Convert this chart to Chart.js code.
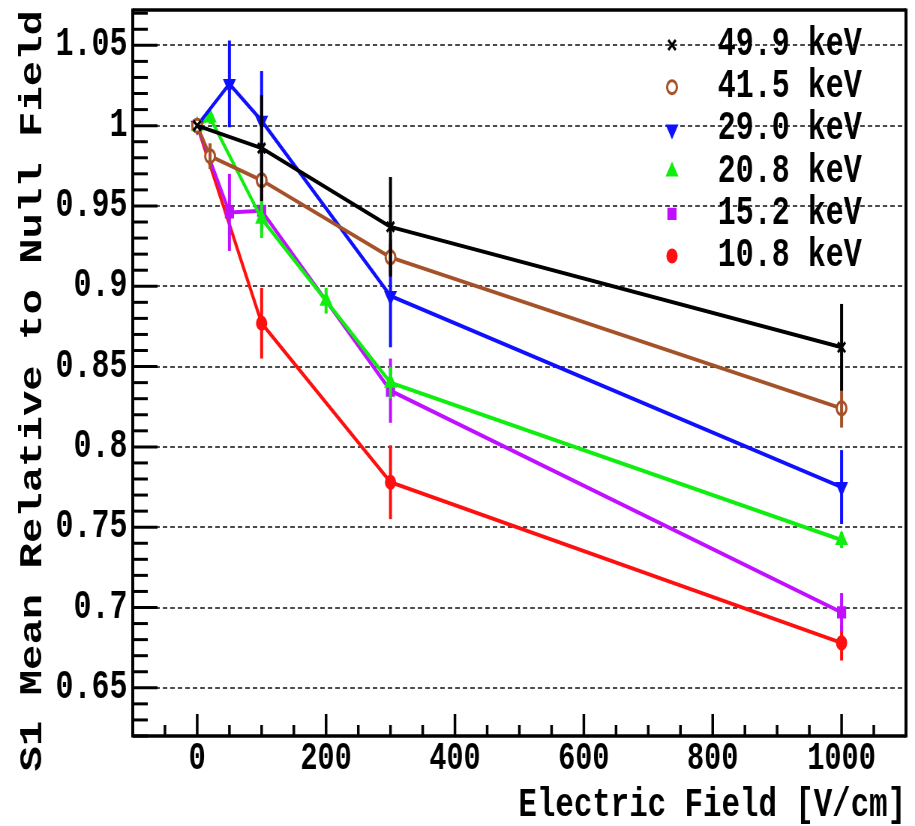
<!DOCTYPE html>
<html>
<head>
<meta charset="utf-8">
<title>S1 Mean Relative to Null Field</title>
<script src="https://cdn.jsdelivr.net/npm/chart.js@4.4.1/dist/chart.umd.min.js"></script>
<style>
html, body { margin: 0; padding: 0; background: #fff; overflow: hidden; }
/* 元画像は横方向に潰れているので、広いキャンバスを横に縮めて描く */
#wrap { width: 1220px; height: 826px; transform: scaleX(0.75); transform-origin: 0 0; }
</style>
</head>
<body>
<div id="wrap"><canvas id="chart"></canvas></div>
<script>
// 凡例ラベル
const labels = ['49.9 keV', '41.5 keV', '29.0 keV', '20.8 keV', '15.2 keV', '10.8 keV'];

// 電場 [V/cm]・S1平均（ゼロ電場比）・誤差
const field499 = [0, 100, 300, 1000];
const mean499  = [1.0, 0.986, 0.937, 0.862];
const err499   = [0, 0.033, 0.031, 0.027];

const field415 = [0, 20, 100, 300, 1000];
const mean415  = [1.0, 0.981, 0.966, 0.918, 0.824];
const err415   = [0, 0.008, 0.012, 0.011, 0.012];

const field290 = [0, 50, 100, 300, 1000];
const mean290  = [1.0, 1.026, 1.003, 0.894, 0.775];
const err290   = [0, 0.027, 0.031, 0.032, 0.023];

const field208 = [0, 20, 100, 200, 300, 1000];
const mean208  = [1.0, 1.005, 0.942, 0.891, 0.840, 0.742];
const err208   = [0, 0.004, 0.012, 0.008, 0.010, 0.005];

const field152 = [0, 50, 100, 300, 1000];
const mean152  = [1.0, 0.946, 0.947, 0.835, 0.697];
const err152   = [0, 0.024, 0.014, 0.020, 0.012];

const field108 = [0, 100, 300, 1000];
const mean108  = [1.0, 0.877, 0.778, 0.678];
const err108   = [0, 0.022, 0.023, 0.011];

// 目盛り
const xTicks = [0, 200, 400, 600, 800, 1000];
const yTicks = [0.65, 0.7, 0.75, 0.8, 0.85, 0.9, 0.95, 1, 1.05];

const fields = [field499, field415, field290, field208, field152, field108];
const means  = [mean499, mean415, mean290, mean208, mean152, mean108];
const errors = [err499, err415, err290, err208, err152, err108];

// 見た目
const colors = ['#000000', '#a5522a', '#1010ff', '#10ee10', '#c010ff', '#ff1010'];
const fills  = ['#000000', '#ffffff', '#1010ff', '#10ee10', '#c010ff', '#ff1010'];
const styles = ['crossRot', 'circle', 'triangle', 'triangle', 'rect', 'circle'];
const rots   = [0, 0, 180, 0, 0, 0];
const radii  = [7, 6.5, 7, 7, 6.5, 6];

const FONT = "'Liberation Mono', 'DejaVu Sans Mono', monospace";
Chart.defaults.font.family = FONT;
Chart.defaults.font.weight = 'bold';
Chart.defaults.color = '#000';

// 誤差棒・枠・内向き目盛り・凡例・Y軸タイトル
const rootStyle = {
    id: 'rootStyle',
    afterDatasetDraw(chart, args) {
        const i = args.index;
        const ys = chart.scales.y;
        const ctx = chart.ctx;
        ctx.save();
        ctx.strokeStyle = colors[i];
        ctx.lineWidth = 4;
        args.meta.data.forEach((pt, k) => {
            const e = errors[i][k];
            if (!e) return;
            const v = means[i][k];
            ctx.beginPath();
            ctx.moveTo(pt.x, ys.getPixelForValue(v + e));
            ctx.lineTo(pt.x, ys.getPixelForValue(v - e));
            ctx.stroke();
        });
        ctx.restore();
    },
    afterDraw(chart) {
        const { ctx, chartArea: a, scales: { x, y } } = chart;
        ctx.save();
        ctx.strokeStyle = '#000';

        // 左軸の目盛り (0.01刻み)
        ctx.lineWidth = 3;
        for (let k = Math.ceil(y.min * 100); k <= Math.floor(y.max * 100); k++) {
            const py = y.getPixelForValue(k / 100);
            const len = k % 5 === 0 ? 33 : 20;
            ctx.beginPath();
            ctx.moveTo(a.left, py);
            ctx.lineTo(a.left + len, py);
            ctx.stroke();
        }
        // 下軸の目盛り (50刻み)
        ctx.lineWidth = 3.5;
        for (let k = Math.ceil(x.min / 50); k <= Math.floor(x.max / 50); k++) {
            const px = x.getPixelForValue(k * 50);
            const len = (k * 50) % 200 === 0 ? 22 : 11;
            ctx.beginPath();
            ctx.moveTo(px, a.bottom);
            ctx.lineTo(px, a.bottom - len);
            ctx.stroke();
        }

        // 枠
        ctx.lineWidth = 3.5;
        ctx.beginPath();
        ctx.moveTo(a.left, a.top); ctx.lineTo(a.right, a.top);
        ctx.moveTo(a.left, a.bottom); ctx.lineTo(a.right, a.bottom);
        ctx.stroke();
        ctx.lineWidth = 4;
        ctx.beginPath();
        ctx.moveTo(a.left, a.top - 1.5); ctx.lineTo(a.left, a.bottom + 1.5);
        ctx.moveTo(a.right, a.top - 1.5); ctx.lineTo(a.right, a.bottom + 1.5);
        ctx.stroke();

        // 凡例
        const mx = a.right - 312, tx = a.right - 251, y0 = a.top + 35, dy = 42.2;
        ctx.font = 'bold 40px ' + FONT;
        ctx.textBaseline = 'middle';
        ctx.textAlign = 'left';
        chart.data.datasets.forEach((ds, i) => {
            const yy = y0 + i * dy;
            ctx.strokeStyle = colors[i];
            ctx.fillStyle = fills[i];
            ctx.lineWidth = 3;
            Chart.helpers.drawPoint(ctx, {
                pointStyle: styles[i], radius: radii[i], rotation: rots[i], borderWidth: 3
            }, mx, yy);
            ctx.fillStyle = '#000';
            ctx.fillText(ds.label, tx, yy);
        });

        // Y軸タイトル
        ctx.translate(44, a.top);
        ctx.rotate(-Math.PI / 2);
        ctx.font = 'bold 42.3px ' + FONT;
        ctx.textAlign = 'right';
        ctx.textBaseline = 'middle';
        ctx.fillStyle = '#000';
        ctx.fillText('S1 Mean Relative to Null Field', 0, 0);
        ctx.restore();
    }
};

new Chart(document.getElementById('chart'), {
    type: 'line',
    data: {
        datasets: labels.map((lab, i) => ({
            label: lab,
            data: fields[i].map((f, k) => ({ x: f, y: means[i][k] })),
            borderColor: colors[i],
            backgroundColor: fills[i],
            pointBackgroundColor: fills[i],
            pointBorderColor: colors[i],
            pointStyle: styles[i],
            pointRotation: rots[i],
            pointRadius: radii[i],
            pointBorderWidth: 3,
            borderWidth: 4,
            tension: 0,
            fill: false
        }))
    },
    options: {
        responsive: true,
        maintainAspectRatio: false,
        animation: false,
        layout: { padding: { top: 10, right: 12, left: 0, bottom: 0 } },
        plugins: {
            legend: { display: false },
            tooltip: { enabled: false }
        },
        scales: {
            x: {
                type: 'linear',
                min: -100,
                max: 1100,
                grid: { display: false },
                border: { display: false },
                afterBuildTicks: s => { s.ticks = xTicks.map(v => ({ value: v })); },
                afterFit: s => {
                    s.height = 90;
                    s.paddingLeft = 0;
                    s.paddingRight = 0;
                },
                ticks: {
                    font: { size: 38, lineHeight: 1 },
                    padding: -4,
                    maxRotation: 0,
                    autoSkip: false,
                    callback: v => String(v)
                },
                title: {
                    display: true,
                    text: 'Electric Field [V/cm]',
                    align: 'end',
                    font: { size: 41, lineHeight: 1 },
                    padding: 0
                }
            },
            y: {
                min: 0.62,
                max: 1.072,
                grid: { color: '#4a4a4a', lineWidth: 2, drawTicks: false },
                border: { display: false, dash: [6, 4] },
                afterBuildTicks: s => { s.ticks = yTicks.map(v => ({ value: v })); },
                afterFit: s => {
                    s.width = 177;
                    s.paddingTop = 0;
                    s.paddingBottom = 0;
                },
                ticks: {
                    font: { size: 40 },
                    padding: 7,
                    autoSkip: false,
                    callback: v => String(v)
                }
            }
        }
    },
    plugins: [rootStyle]
});
</script>
</body>
</html>
